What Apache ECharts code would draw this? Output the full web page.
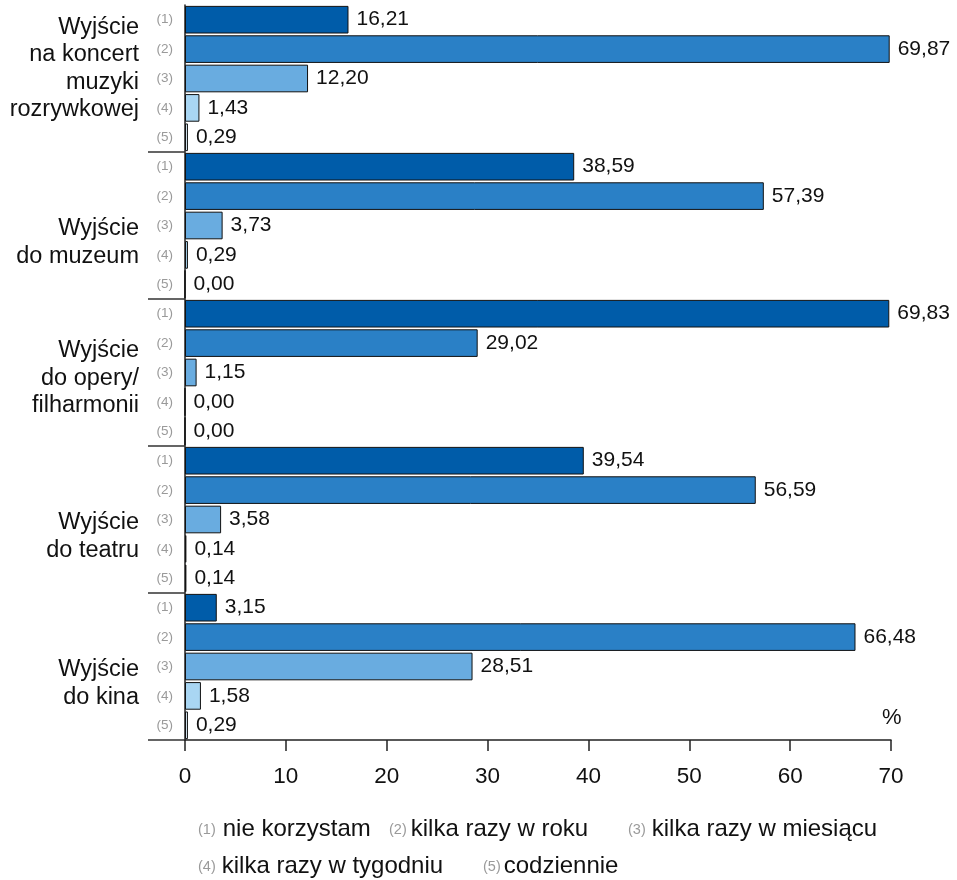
<!DOCTYPE html>
<html>
<head>
<meta charset="utf-8">
<script src="https://cdn.jsdelivr.net/npm/echarts@6/dist/echarts.min.js"></script>
<style>
  html, body { margin: 0; padding: 0; background: #fff; }
  #chart { width: 957px; height: 880px; }
</style>
</head>
<body>
<div id="chart"></div>
<script>
// Cultural activities: how often respondents go out (percent of answers)
const activities = [
  'Wyjście\nna koncert\nmuzyki\nrozrywkowej',
  'Wyjście\ndo muzeum',
  'Wyjście\ndo opery/\nfilharmonii',
  'Wyjście\ndo teatru',
  'Wyjście\ndo kina'
];
const answers = [
  'nie korzystam',
  'kilka razy w roku',
  'kilka razy w miesiącu',
  'kilka razy w tygodniu',
  'codziennie'
];
// one array per answer, values in the order of `activities`
const nieKorzystam      = [16.21, 38.59, 69.83, 39.54, 3.15];
const kilkaRazyWRoku    = [69.87, 57.39, 29.02, 56.59, 66.48];
const kilkaRazyWMiesiac = [12.20, 3.73, 1.15, 3.58, 28.51];
const kilkaRazyWTydzien = [1.43, 0.29, 0.00, 0.14, 1.58];
const codziennie        = [0.29, 0.00, 0.00, 0.14, 0.29];
const xMin = 0, xMax = 70, xStep = 10;

const answerValues = [nieKorzystam, kilkaRazyWRoku, kilkaRazyWMiesiac, kilkaRazyWTydzien, codziennie];
const colors = ['#005CA9', '#2A80C6', '#69ACE0', '#A9D6F3', '#DDEFFB'];
// vertical offset (px) of each activity label from its band centre, + is down
const labelShift = [-10, 17, 6, 17, 17];

const FONT = 'Liberation Sans';
const nA = activities.length, nS = answers.length;

// 25 slots: one per (activity, answer) pair
const slots = [];
for (let g = 0; g < nA; g++) for (let s = 0; s < nS; s++) slots.push(g + '|' + (s + 1));

const series = answers.map((name, s) => ({
  name: name,
  type: 'bar',
  yAxisIndex: 0,
  barWidth: '94%',
  barGap: '-100%',
  itemStyle: { color: colors[s], borderColor: '#111', borderWidth: 1 },
  label: {
    show: true, position: 'right', distance: 8,
    fontFamily: FONT, fontSize: 21, color: '#111',
    formatter: p => Number(p.value).toFixed(2).replace('.', ',')
  },
  data: slots.map((k, i) => (i % nS === s ? answerValues[s][Math.floor(i / nS)] : '-'))
}));

// legend: two rows, number marker followed by the answer text
const legendLeft = [192, 383, 622, 192, 477];
const legendTop = [817, 817, 817, 854, 854];
const legendMarkGap = [7, 4, 6, 6, 3];
const legends = answers.map((name, s) => ({
  data: [name],
  left: legendLeft[s], top: legendTop[s],
  padding: 0,
  itemWidth: 0, itemHeight: 0, itemGap: 0,
  selectedMode: false,
  formatter: n => '{n|(' + (s + 1) + ')}{t|' + n + '}',
  textStyle: {
    rich: {
      n: { fontFamily: FONT, fontSize: 14.5, color: '#9a9a9a', padding: [2, legendMarkGap[s], 0, 0] },
      t: { fontFamily: FONT, fontSize: 24, color: '#111' }
    }
  }
}));

// activity labels: text lines plus an invisible spacer line that offsets the block
const activityRich = {
  t: { fontFamily: FONT, fontSize: 23.5, lineHeight: 27.5, color: '#111' }
};
labelShift.forEach((sh, g) => {
  activityRich['s' + g] = { fontSize: 1, lineHeight: Math.max(1, Math.abs(sh) * 2) };
});
function activityLabel(value, idx) {
  const body = value.split('\n').map(l => '{t|' + l + '}').join('\n');
  const spacer = '{s' + idx + '| }';
  const sh = labelShift[idx];
  if (sh > 0) return spacer + '\n' + body;
  if (sh < 0) return body + '\n' + spacer;
  return body;
}

const chart = echarts.init(document.getElementById('chart'), null, { renderer: 'canvas' });
chart.setOption({
  backgroundColor: '#fff',
  animation: false,
  title: {
    text: '%', left: 882, top: 707, padding: 0,
    textStyle: { fontFamily: FONT, fontSize: 22, fontWeight: 'normal', color: '#111' }
  },
  legend: legends,
  grid: { left: 185, right: 66, top: 5, bottom: 140 },
  xAxis: {
    type: 'value', min: xMin, max: xMax, interval: xStep,
    axisLine: { show: true, lineStyle: { color: '#222', width: 1.5 } },
    axisTick: { show: true, length: 11, lineStyle: { color: '#222', width: 1.5 } },
    axisLabel: { fontFamily: FONT, fontSize: 22.5, color: '#111', margin: 25 },
    splitLine: { show: false }
  },
  yAxis: [
    {
      type: 'category', inverse: true, data: slots,
      axisLine: { show: false }, axisTick: { show: false },
      axisLabel: {
        fontFamily: FONT, fontSize: 13.5, color: '#9a9a9a', margin: 12,
        formatter: v => '(' + v.split('|')[1] + ')'
      }
    },
    {
      type: 'category', inverse: true, position: 'left',
      data: activities,
      axisLine: { show: true, lineStyle: { color: '#222', width: 1.5 } },
      axisTick: {
        show: true, length: 37, interval: idx => idx !== 0,
        lineStyle: { color: '#333', width: 1.5 }
      },
      axisLabel: {
        margin: 46, align: 'right',
        formatter: activityLabel,
        rich: activityRich
      }
    }
  ],
  series: series
});
</script>
</body>
</html>
